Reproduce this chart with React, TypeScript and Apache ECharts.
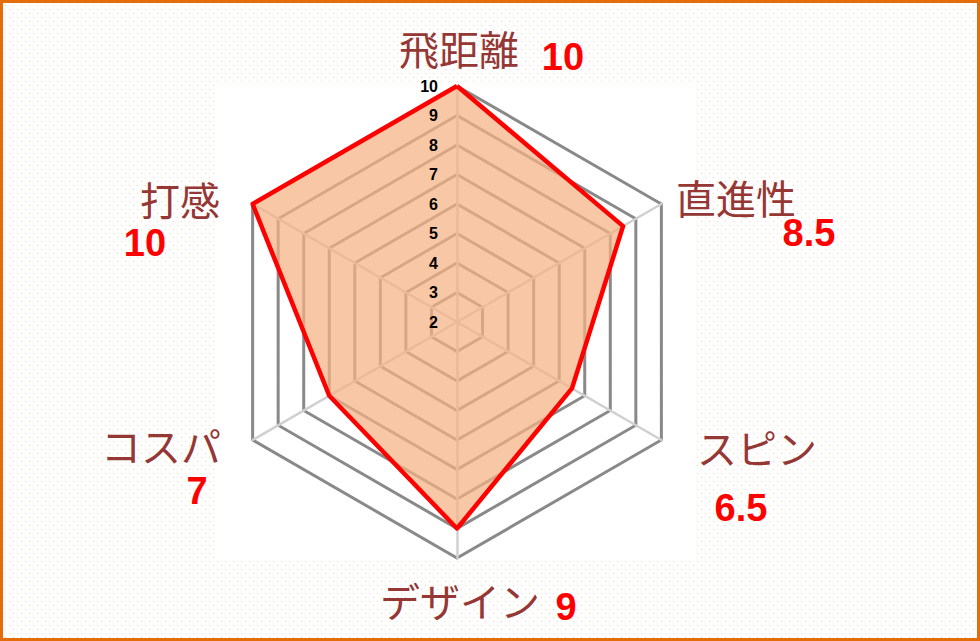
import React, { useEffect, useRef } from "react";
import * as echarts from "echarts";

// indicators listed counter-clockwise from the top (ECharts radar order)
const indicatorNames = ["飛距離", "打感", "コスパ", "デザイン", "スピン", "直進性"];
const scores = [10, 10, 7, 9, 6.5, 8.5];
const scoreLabels = ["10", "10", "7", "9", "6.5", "8.5"];
const axisMin = 2;
const axisMax = 10;
const axisStep = 1;

// layout (offsets from radar centre) for the name and score texts
const CX = 457;
const CY = 322;
const R = 236;
const nameOffsets = [
  [2, -274],
  [-277, -123],
  [-296, 123],
  [3, 278],
  [300, 125],
  [279, -125],
];
const scoreOffsets = [
  [106, -265],
  [-312, -79],
  [-260, 169],
  [109, 285],
  [284, 186],
  [352, -89],
];

const patternSvg =
  "url(\"data:image/svg+xml;utf8,<svg xmlns='http://www.w3.org/2000/svg' width='8' height='8'><rect x='1' y='1' width='1' height='1' fill='%23fbd3ae'/><rect x='5' y='5' width='1' height='1' fill='%23fbd3ae'/></svg>\")";

const labelStyle = {
  color: "#000",
  fontSize: 16,
  fontWeight: "bold",
  fontFamily: "'Liberation Sans', Arial, sans-serif",
  margin: 19,
};

export default function App() {
  const ref = useRef<HTMLDivElement>(null);

  useEffect(() => {
    document.body.style.margin = "0";
    const chart = echarts.init(ref.current!, undefined, { renderer: "svg" });

    const gridIndicator = indicatorNames.map((name) => ({ name, min: axisMin, max: axisMax }));
    const labelIndicator = indicatorNames.map((name, i) => {
      const item: any = { name, min: axisMin, max: axisMax };
      if (i === 0) item.axisLabel = { show: true, ...labelStyle, showMinLabel: true };
      return item;
    });

    const texts: any[] = [];
    indicatorNames.forEach((name, i) => {
      texts.push({
        type: "text",
        x: CX + nameOffsets[i][0],
        y: CY + nameOffsets[i][1],
        z: 10,
        style: {
          text: name,
          fill: "#953735",
          font: "normal 40px 'Noto Sans CJK JP', sans-serif",
          lineHeight: 34,
          textAlign: "center",
          textVerticalAlign: "middle",
        },
      });
      texts.push({
        type: "text",
        x: CX + scoreOffsets[i][0],
        y: CY + scoreOffsets[i][1],
        z: 10,
        style: {
          text: scoreLabels[i],
          fill: "#ff0000",
          font: "bold 38px 'Liberation Sans', Arial, sans-serif",
          lineHeight: 30,
          textAlign: "center",
          textVerticalAlign: "middle",
        },
      });
    });

    const common = {
      center: [CX, CY],
      radius: R,
      startAngle: 90,
      shape: "polygon",
      splitNumber: (axisMax - axisMin) / axisStep,
      axisName: { show: false },
      axisTick: { show: false },
    };

    chart.setOption({
      animation: false,
      graphic: [
        {
          type: "rect",
          z: -5,
          shape: { x: 217, y: 84, width: 479, height: 475 },
          style: { fill: "#ffffff" },
        },
        ...texts,
        {
          type: "rect",
          z: 20,
          shape: { x: 1.5, y: 1.5, width: 977, height: 638 },
          style: { fill: "none", stroke: "#e46c0a", lineWidth: 3 },
        },
      ],
      radar: [
        {
          ...common,
          z: 1,
          indicator: gridIndicator,
          axisLine: { lineStyle: { color: "#d0d0d0", width: 2.5 } },
          splitLine: { lineStyle: { color: "#898989", width: 3 } },
          splitArea: { show: false },
          axisLabel: { show: false },
        },
        {
          ...common,
          z: 10,
          indicator: labelIndicator,
          axisLine: { show: false },
          splitLine: { show: false },
          splitArea: { show: false },
          axisLabel: { show: false, ...labelStyle },
        },
      ],
      series: [
        {
          type: "radar",
          radarIndex: 0,
          z: 3,
          symbol: "none",
          lineStyle: { width: 0, opacity: 0 },
          areaStyle: { color: "#f4b183", opacity: 0.72 },
          data: [{ value: scores, name: "評価" }],
        },
        {
          type: "radar",
          radarIndex: 0,
          z: 4,
          symbol: "none",
          lineStyle: { color: "#ff0000", width: 4.5 },
          data: [{ value: scores, name: "評価" }],
        },
      ],
    });

    return () => chart.dispose();
  }, []);

  return (
    <div
      ref={ref}
      style={{
        position: "fixed",
        left: 0,
        top: 0,
        width: 980,
        height: 641,
        backgroundColor: "#ffffff",
        backgroundImage: patternSvg,
        backgroundSize: "8px 8px",
      }}
    />
  );
}
